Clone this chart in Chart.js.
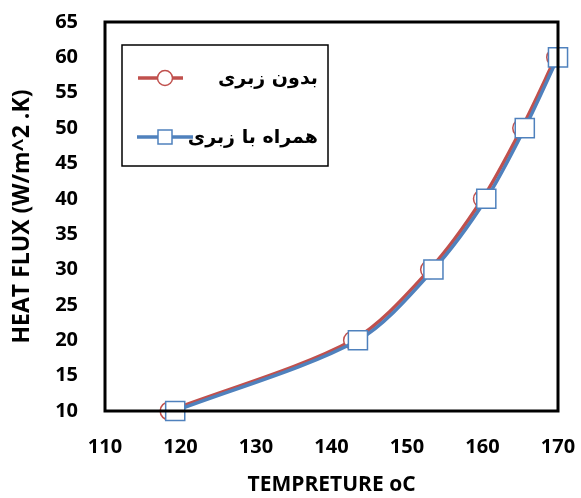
<!DOCTYPE html>
<html>
<head>
<meta charset="utf-8">
<script src="https://cdn.jsdelivr.net/npm/chart.js@4"></script>
<style>
  html, body { margin: 0; padding: 0; background: #fff; }
  #wrap { width: 581px; height: 498px; }
</style>
</head>
<body>
<div id="wrap"><canvas id="heatChart" width="581" height="498"></canvas></div>
<script>
// heat flux levels (same for both series)
var heatFlux = [10, 20, 30, 40, 50, 60];
// temperature readings, smooth surface
var tempSmooth = [118.5, 142.8, 153.0, 160.0, 165.2, 169.7];
// temperature readings, rough surface
var tempRough = [119.3, 143.5, 153.5, 160.5, 165.6, 170.0];

var seriesNames = ["بدون زبری", "همراه با زبری"];
var redColor = "#C0504D";
var blueColor = "#4F81BD";
var fontFamily = "'Open Sans', 'DejaVu Sans', sans-serif";
var tickFont = { family: fontFamily, size: 20, weight: "bold" };

function toPoints(xs, ys) {
    var out = [];
    for (var i = 0; i < xs.length; i++) {
        out.push({ x: xs[i], y: ys[i] });
    }
    return out;
}

// frame around plot area + legend box inside it
var framePlugin = {
    id: "frame",
    afterDraw: function(chart) {
        var ctx = chart.ctx;
        var a = chart.chartArea;
        ctx.save();
        ctx.strokeStyle = "#000";
        ctx.lineWidth = 3;
        ctx.strokeRect(a.left, a.top, a.right - a.left, a.bottom - a.top);

        // legend
        var bx = a.left + 17, by = a.top + 23, bw = 206, bh = 121;
        ctx.fillStyle = "#fff";
        ctx.fillRect(bx, by, bw, bh);
        ctx.lineWidth = 1.5;
        ctx.strokeRect(bx, by, bw, bh);

        var rows = [
            { y: by + 33, color: redColor, shape: "circle", x0: bx + 16, x1: bx + 61 },
            { y: by + 92, color: blueColor, shape: "rect", x0: bx + 15, x1: bx + 71 }
        ];
        for (var i = 0; i < rows.length; i++) {
            var r = rows[i];
            ctx.strokeStyle = r.color;
            ctx.lineWidth = 3.5;
            ctx.beginPath();
            ctx.moveTo(r.x0, r.y);
            ctx.lineTo(r.x1, r.y);
            ctx.stroke();
            var cx = bx + 43;
            ctx.fillStyle = "#fff";
            ctx.lineWidth = 1.5;
            if (r.shape == "circle") {
                ctx.beginPath();
                ctx.arc(cx, r.y, 7.5, 0, Math.PI * 2);
                ctx.fill();
                ctx.stroke();
            } else {
                ctx.fillRect(cx - 7, r.y - 7, 14, 14);
                ctx.strokeRect(cx - 7, r.y - 7, 14, 14);
            }
            ctx.fillStyle = "#000";
            ctx.font = "bold 19px 'DejaVu Sans', sans-serif";
            ctx.direction = "rtl";
            ctx.textAlign = "right";
            ctx.textBaseline = "middle";
            ctx.fillText(seriesNames[i], bx + bw - 10, r.y + 1);
        }
        ctx.restore();
    }
};

var heatChart = new Chart(document.getElementById("heatChart"), {
    type: "line",
    data: {
        datasets: [
            {
                label: seriesNames[0],
                data: toPoints(tempSmooth, heatFlux),
                borderColor: redColor,
                backgroundColor: "#fff",
                borderWidth: 3.5,
                tension: 0.3,
                pointStyle: "circle",
                pointRadius: 9,
                pointBorderWidth: 1.5,
                pointBorderColor: redColor,
                pointBackgroundColor: "#fff",
                order: 1
            },
            {
                label: seriesNames[1],
                data: toPoints(tempRough, heatFlux),
                borderColor: blueColor,
                backgroundColor: "#fff",
                borderWidth: 3.5,
                tension: 0.3,
                pointStyle: "rect",
                pointRadius: 13.5,
                pointBorderWidth: 1.5,
                pointBorderColor: blueColor,
                pointBackgroundColor: "#fff",
                order: 0
            }
        ]
    },
    options: {
        responsive: false,
        animation: false,
        clip: false,
        layout: { autoPadding: false, padding: { top: 22, right: 23, left: 0, bottom: 0 } },
        plugins: {
            legend: { display: false },
            tooltip: { enabled: false }
        },
        scales: {
            x: {
                type: "linear",
                min: 110,
                max: 170,
                // tick gap via tickLength so it doesn't inflate the side padding
                ticks: { stepSize: 10, color: "#000", font: tickFont, padding: 0 },
                grid: { display: false, drawTicks: true, tickLength: 24 },
                border: { display: false },
                title: {
                    display: true,
                    text: "TEMPRETURE oC",
                    color: "#000",
                    font: { family: fontFamily, size: 21, weight: "bold", lineHeight: 1.0 },
                    padding: { top: 0, bottom: 2 }
                },
                afterFit: function(scale) { scale.height = 87; }
            },
            y: {
                type: "linear",
                min: 10,
                max: 65,
                ticks: { stepSize: 5, color: "#000", font: tickFont, padding: 0 },
                grid: { display: false, drawTicks: true, tickLength: 27 },
                border: { display: false },
                title: {
                    display: true,
                    text: "HEAT FLUX (W/m^2 .K)",
                    color: "#000",
                    font: { family: fontFamily, size: 23, weight: "bold" },
                    padding: { top: 9, bottom: 0 }
                },
                afterFit: function(scale) { scale.width = 105; }
            }
        }
    },
    plugins: [framePlugin]
});
</script>
</body>
</html>
